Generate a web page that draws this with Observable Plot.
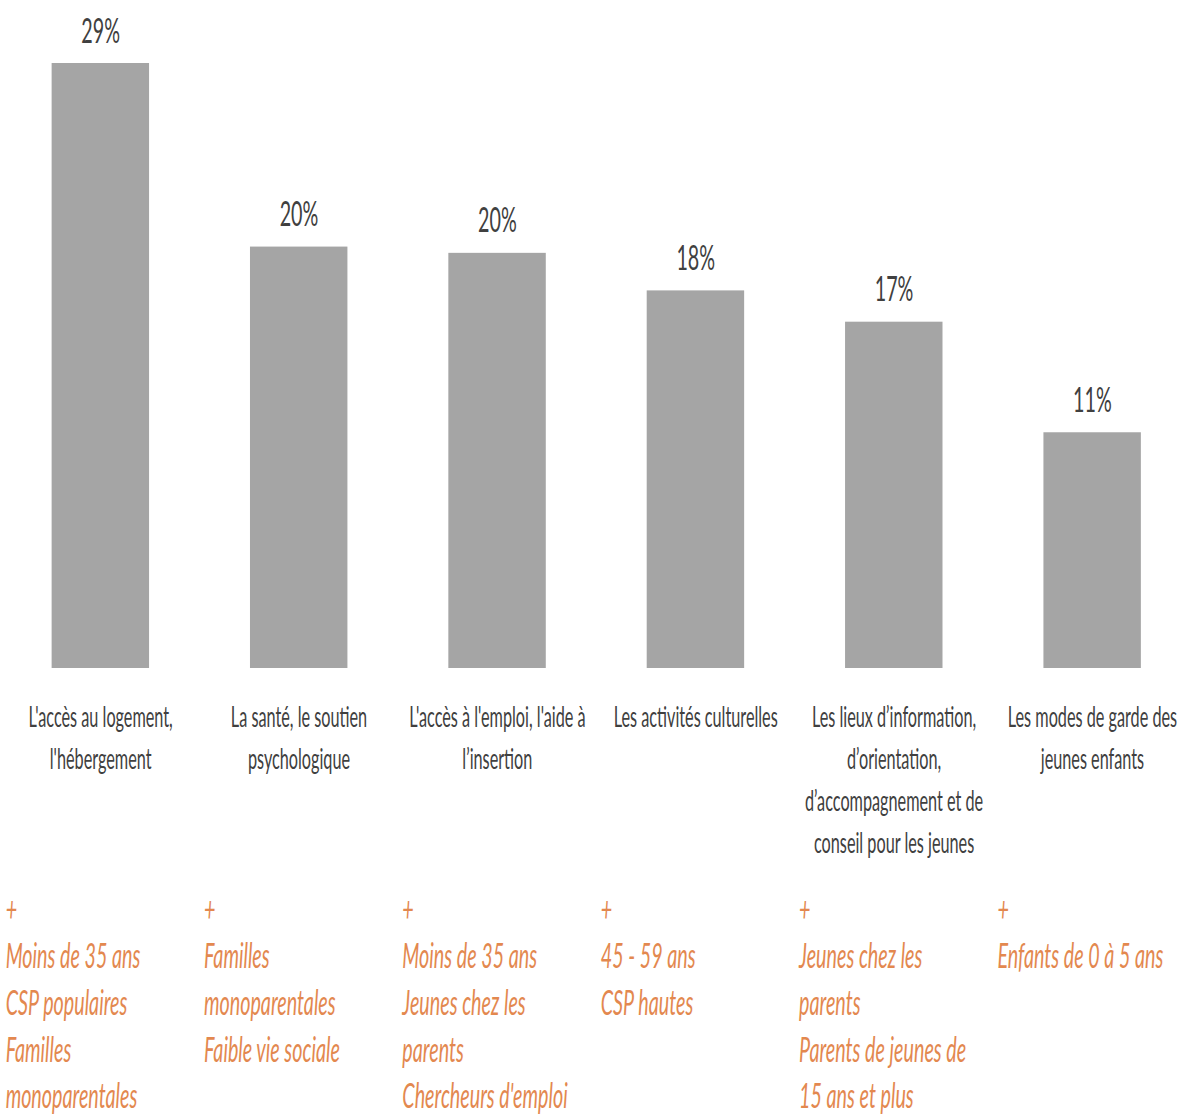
<!DOCTYPE html>
<html>
<head>
<meta charset="utf-8">
<script src="https://cdn.jsdelivr.net/npm/d3@7"></script>
<script src="https://cdn.jsdelivr.net/npm/@observablehq/plot@0.6"></script>
<style>
  html, body { margin: 0; padding: 0; background: #fff; overflow: hidden; }
  #wrap { transform-origin: 0 0; }
</style>
</head>
<body>
<div id="wrap"></div>
<script>
// ---- data ----
const categories = [
  "L'accès au logement,\nl'hébergement",
  "La santé, le soutien\npsychologique",
  "L'accès à l'emploi, l'aide à\nl’insertion",
  "Les activités culturelles",
  "Les lieux d’information,\nd’orientation,\nd’accompagnement et de\nconseil pour les jeunes",
  "Les modes de garde des\njeunes enfants"
];
const values = [29, 20.2, 19.9, 18.1, 16.6, 11.3];
const valueLabels = ["29%", "20%", "20%", "18%", "17%", "11%"];
const profiles = [
  "+\nMoins de 35 ans\nCSP populaires\nFamilles\nmonoparentales",
  "+\nFamilles\nmonoparentales\nFaible vie sociale",
  "+\nMoins de 35 ans\nJeunes chez les\nparents\nChercheurs d'emploi",
  "+\n45 - 59 ans\nCSP hautes",
  "+\nJeunes chez les\nparents\nParents de jeunes de\n15 ans et plus",
  "+\nEnfants de 0 à 5 ans"
];

const data = categories.map((c, i) => ({
  cat: c, value: values[i], label: valueLabels[i], profile: profiles[i]
}));

// The reference type is strongly condensed: draw wide, then squeeze horizontally.
const squeeze = 0.58;
const W = Math.round(1192 / squeeze);
const H = 1117;
const font = "Lato, 'Open Sans', sans-serif";

const chart = Plot.plot({
  width: W,
  height: H,
  marginTop: 63,
  marginBottom: H - 668,
  marginLeft: 0,
  marginRight: 0,
  style: { fontFamily: font, background: "#fff" },
  x: { domain: categories, paddingInner: 0.51, paddingOuter: 0.255, axis: null },
  y: { domain: [0, 29], axis: null },
  marks: [
    Plot.barY(data, { x: "cat", y: "value", fill: "#a5a5a5" }),
    Plot.text(data, {
      x: "cat", y: "value", text: "label",
      lineAnchor: "bottom", dy: -21,
      fontSize: 34, fontWeight: 400, fill: "#404040"
    }),
    Plot.text(data, {
      x: "cat", y: () => 0, text: "cat",
      lineAnchor: "top", dy: 29, lineHeight: 1.5,
      fontSize: 28, fontWeight: 400, fill: "#404040"
    }),
    Plot.text(data, {
      x: "cat", y: () => 0, text: "profile",
      lineAnchor: "top", textAnchor: "start", dx: -95 / squeeze, dy: 220,
      lineHeight: 1.373, fontSize: 34, fontWeight: 400, fontStyle: "italic",
      fill: "#e3884f"
    })
  ]
});

const wrap = document.getElementById("wrap");
wrap.style.width = W + "px";
wrap.style.transform = `scaleX(${squeeze})`;
wrap.appendChild(chart);
</script>
</body>
</html>
